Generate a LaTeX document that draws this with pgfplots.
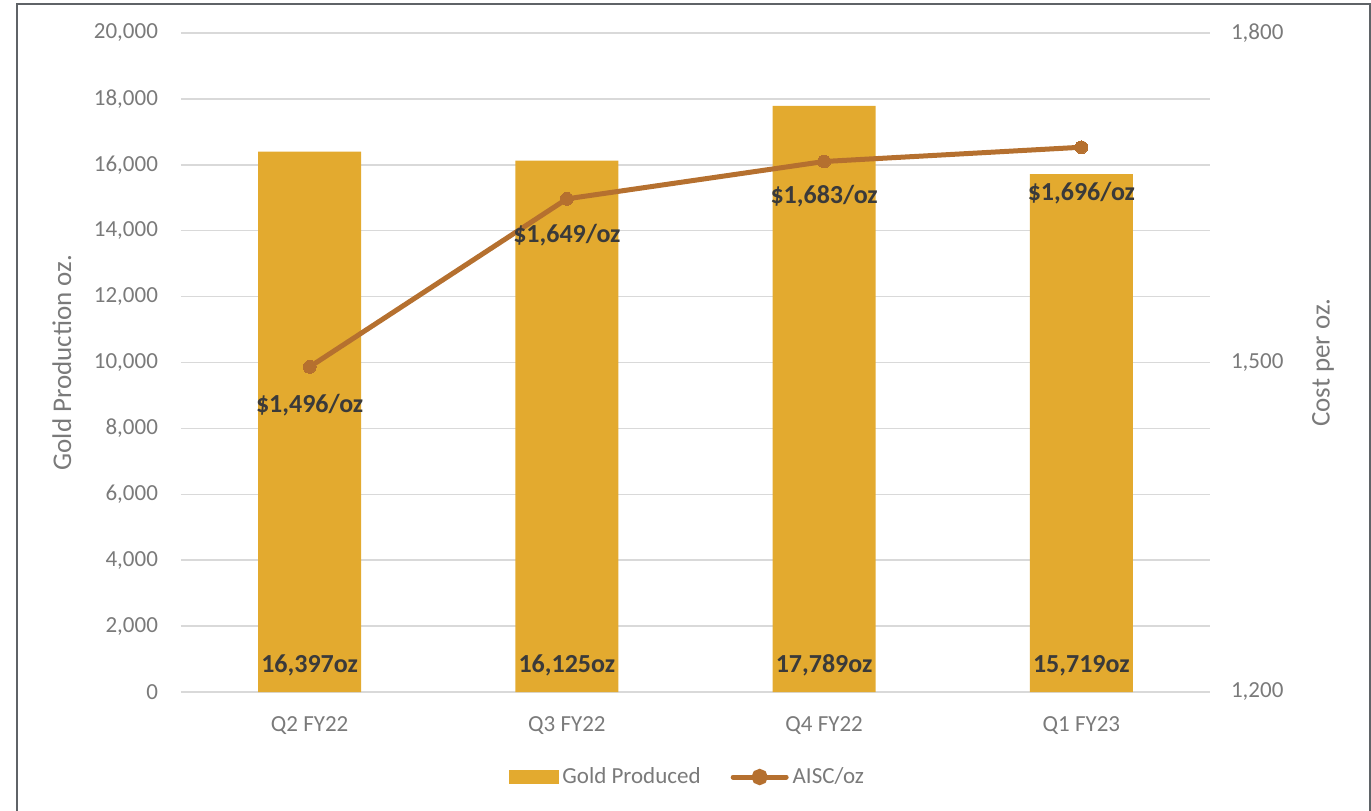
\documentclass[border=0pt]{standalone}
\usepackage{pgfplots}
\pgfplotsset{compat=1.18}
\usepackage{pgfplotstable}
\usepackage{fontspec}
\setmainfont{Carlito}
\definecolor{barc}{HTML}{E3AA2F}
\definecolor{linec}{HTML}{B5702F}
\definecolor{txt}{HTML}{7A7A7A}
\definecolor{lab}{HTML}{3A3A3A}
\definecolor{gridc}{HTML}{D9D9D9}
\definecolor{framec}{HTML}{5F6367}

\pgfplotstableread{
x prod
0 16397
1 16125
2 17789
3 15719
}\prodtab
\pgfplotstableread{
x aisc off
0 1496 19
1 1649 18
2 1683 17.5
3 1696 23
}\aisctab

\pgfplotsset{
  common/.style={
    scale only axis,
    width=514.5pt, height=329.5pt,
    at={(90.5pt,59pt)}, anchor=south west,
    xmin=-0.5, xmax=3.5,
    axis line style={draw=none},
    tick style={draw=none},
    /pgf/number format/assume math mode=true,
    /pgf/number format/.cd, 1000 sep={,},
  },
}

\begin{document}
\begin{tikzpicture}[font=\fontsize{11.5}{13.5}\selectfont]
\useasboundingbox (0,0) rectangle (685.5pt,405pt);
\draw[framec, line width=0.8pt] (8.5pt,-5pt) rectangle (685pt,403pt);

\begin{axis}[common,
  ymin=0, ymax=20000, ytick distance=2000,
  axis x line*=bottom, axis y line*=left,
  ymajorgrids, major grid style={gridc, line width=0.75pt},
  xtick={0,1,2,3},
  xticklabels={Q2 FY22,Q3 FY22,Q4 FY22,Q1 FY23},
  ticklabel style={txt, font=\fontsize{11.5}{13.5}\selectfont},
  xticklabel style={yshift=-9pt},
  yticklabel style={xshift=-8pt},
  ylabel={Gold Production oz.},
  ylabel style={txt, font=\fontsize{13.5}{16}\selectfont, at={(axis description cs:-0.1157,0.5)}, anchor=center, rotate=0},
  scaled y ticks=false,
]
\addplot[ybar, bar width=51.5pt, bar shift=0pt, fill=barc, draw=none]
  table[x=x, y=prod] {\prodtab};
\addplot[draw=none, mark=none,
  point meta=\thisrow{prod},
  nodes near coords={\pgfmathprintnumber[1000 sep={,},assume math mode=true]{\pgfplotspointmeta}oz},
  every node near coord/.append style={anchor=center, lab,
     font=\fontsize{13}{15}\bfseries},
] table[x=x, y expr=800] {\prodtab};
\end{axis}

\begin{axis}[common,
  ymin=1200, ymax=1800, ytick={1200,1500,1800},
  axis x line=none, axis y line*=right,
  ticklabel style={txt, font=\fontsize{11.5}{13.5}\selectfont},
  yticklabel style={xshift=7pt},
  ylabel={Cost per oz.},
  ylabel style={txt, font=\fontsize{13.5}{16}\selectfont, at={(axis description cs:1.1098,0.5)}, anchor=center, rotate=0},
  scaled y ticks=false,
  legend style={at={(axis description cs:0.493,-0.129)}, anchor=center, draw=none,
     legend columns=2, font=\fontsize{11.5}{13.5}\selectfont, text=txt,
     /tikz/every even column/.append style={column sep=13pt},
     legend cell align=left},
]
\addlegendimage{legend image code/.code={\fill[barc] (0pt,-3.25pt) rectangle (24.5pt,3.25pt);}}
\addlegendentry{Gold Produced}
\draw[gray!60, line width=0.6pt] (axis cs:3,1696) ++(0,-3pt) -- ++(0,-15pt);
\addplot[linec, line width=2.5pt, mark=*, mark size=3.2pt,
  mark options={fill=linec, draw=linec, line width=0pt},
  visualization depends on={\thisrow{off} \as \off},
  point meta=y,
  nodes near coords={\$\pgfmathprintnumber[1000 sep={,},assume math mode=true]{\pgfplotspointmeta}/oz},
  every node near coord/.append style={anchor=center, lab,
     font=\fontsize{13}{15}\bfseries, yshift={-\off pt}},
  legend image code/.code={\draw[linec, line width=2.5pt, line cap=round] (0pt,0pt) -- (26.5pt,0pt);
     \fill[linec] (13.25pt,0pt) circle (2.8pt);},
] table[x=x, y=aisc] {\aisctab};
\addlegendentry{AISC/oz}
\end{axis}
\end{tikzpicture}
\end{document}
